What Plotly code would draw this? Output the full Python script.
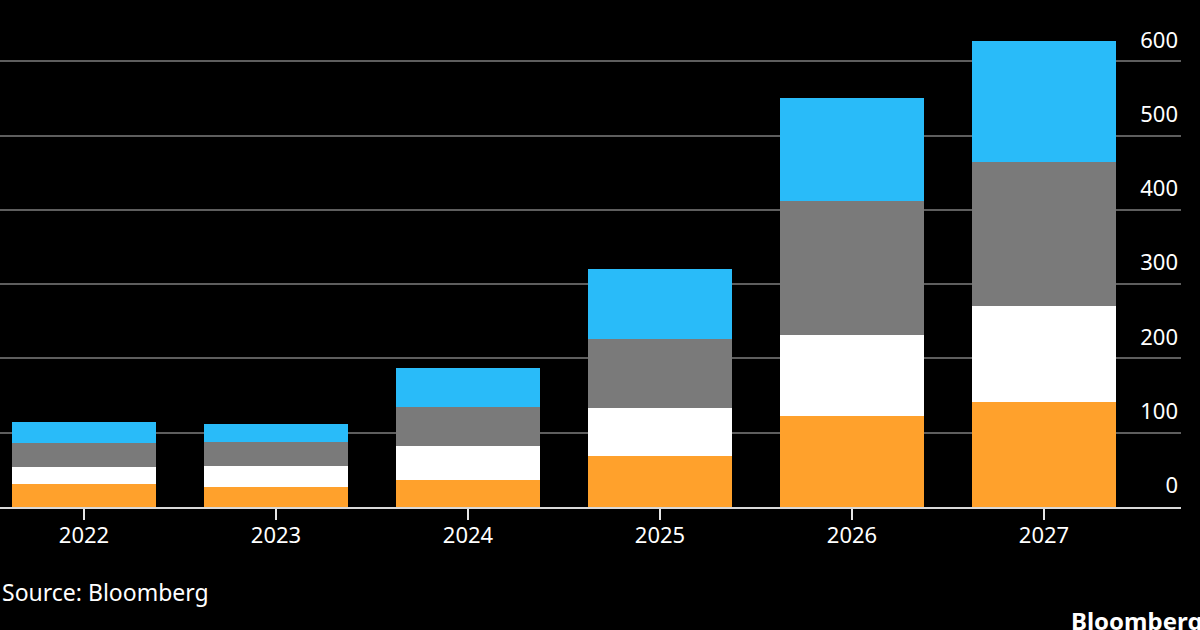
import plotly.graph_objects as go

years = [2022, 2023, 2024, 2025, 2026, 2027]
orange_vals = [31, 27, 37, 69, 123, 141]
white_vals = [23.5, 28, 44.5, 64, 108, 129]
gray_vals = [31.5, 32, 53, 92.5, 180.5, 194.5]
blue_vals = [28, 25, 52.5, 95.5, 139.5, 162.5]
y_ticks = [0, 100, 200, 300, 400, 500, 600]

series = [
    (orange_vals, "#FFA12C"),
    (white_vals, "#FFFFFF"),
    (gray_vals, "#7A7A7A"),
    (blue_vals, "#29BBF9"),
]

fig = go.Figure()
for vals, col in series:
    fig.add_trace(go.Bar(x=years, y=vals, width=0.745,
                         marker=dict(color=col, line=dict(width=0)),
                         hoverinfo="skip"))

FONT = "Noto Sans"
fig.update_layout(
    width=1200, height=630,
    barmode="stack",
    showlegend=False,
    paper_bgcolor="#000000",
    plot_bgcolor="#000000",
    margin=dict(l=0, r=19, t=20, b=123),
    font=dict(family=FONT, color="#FFFFFF", size=22),
    xaxis=dict(
        range=[2021.5625, 2027.7135],
        tickvals=years,
        ticktext=[str(y) for y in years],
        showgrid=False,
        zeroline=False,
        showline=True, linecolor="#D9D9D9", linewidth=2,
        ticks="outside", ticklen=11, tickwidth=2, tickcolor="#E6E6E6",
        ticklabelstandoff=-3,
        tickfont=dict(family=FONT, size=22, color="#FFFFFF"),
    ),
    yaxis=dict(
        range=[0, 655.6],
        side="right",
        tickvals=y_ticks,
        ticktext=[str(v) for v in y_ticks],
        showgrid=True, gridcolor="#5E5E5E", gridwidth=1.5,
        zeroline=False, showline=False, ticks="",
        ticklabelposition="inside top",
        ticklabelshift=-6,
        tickfont=dict(family=FONT, size=22, color="#FFFFFF"),
    ),
    annotations=[
        dict(text="Source: Bloomberg", xref="paper", yref="paper",
             x=0, y=-0.1738, xanchor="left", yanchor="middle",
             showarrow=False, font=dict(family=FONT, size=23, color="#FFFFFF")),
        dict(text="<b>Bloomberg</b>", xref="paper", yref="paper",
             x=0.905, y=-0.2333, xanchor="left", yanchor="middle",
             showarrow=False, font=dict(family=FONT, size=24, color="#FFFFFF")),
    ],
)

fig.write_html(
    "out.html",
    config={"displayModeBar": False},
    post_script="document.body.style.margin='0';document.body.style.background='#000';",
)
